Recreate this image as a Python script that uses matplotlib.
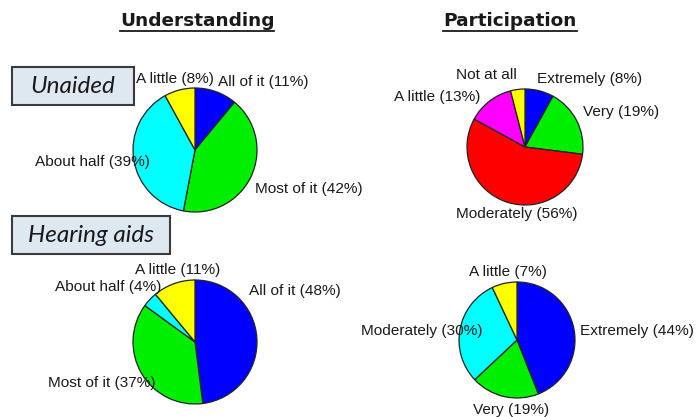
import matplotlib.pyplot as plt
from matplotlib.patches import Rectangle

# data (percent)
und_labels = ['All of it', 'Most of it', 'About half', 'A little']
und_unaided = [11, 42, 39, 8]
und_aided = [48, 37, 4, 11]
und_colors = ['#0000ff', '#00ee00', '#00ffff', '#ffff00']

part_unaided_labels = ['Extremely', 'Very', 'Moderately', 'A little', 'Not at all']
part_unaided = [8, 19, 56, 13, 4]
part_unaided_colors = ['#0000ff', '#00ee00', '#ff0000', '#ff00ff', '#ffff00']

part_aided_labels = ['Extremely', 'Very', 'Moderately', 'A little']
part_aided = [44, 19, 30, 7]
part_aided_colors = ['#0000ff', '#00ee00', '#00ffff', '#ffff00']

W, H = 698, 417


def Y(py):
    return H - py


def label(name, v):
    if name == 'Not at all':
        return name
    return f'{name} ({v}%)'


fig = plt.figure(figsize=(W / 100, H / 100), dpi=100)
ax = fig.add_axes([0, 0, 1, 1])


def draw_pie(values, colors, cx, cy, r):
    ax.pie(values, colors=colors, startangle=90, counterclock=False,
           center=(cx, Y(cy)), radius=r,
           wedgeprops=dict(edgecolor='#222222', linewidth=0.9))


draw_pie(und_unaided, und_colors, 195, 150, 62)
draw_pie(part_unaided, part_unaided_colors, 525, 147, 58)
draw_pie(und_aided, und_colors, 195, 342, 62)
draw_pie(part_aided, part_aided_colors, 517, 340, 58)

ax.set_xlim(0, W)
ax.set_ylim(0, H)
ax.set_aspect('equal')
ax.axis('off')

txt = dict(fontsize=11.1, family='Liberation Sans', color='#1a1a1a',
           ha='left', va='center')

# label positions (left edge, vertical centre) in pixels
und_unaided_pos = [(218, 82), (255, 189), (35, 162), (136, 79)]
part_unaided_pos = [(537, 79), (583, 112), (456, 214), (394, 97), (456, 75)]
und_aided_pos = [(249, 291), (48, 383), (55, 287), (135, 270)]
part_aided_pos = [(580, 331), (473, 410), (361, 331), (469, 272)]

for names, vals, pos in [(und_labels, und_unaided, und_unaided_pos),
                         (part_unaided_labels, part_unaided, part_unaided_pos),
                         (und_labels, und_aided, und_aided_pos),
                         (part_aided_labels, part_aided, part_aided_pos)]:
    for n, v, (x, y) in zip(names, vals, pos):
        ax.text(x, Y(y), label(n, v), **txt)

# column titles, underlined
fig.canvas.draw()
for title, x in [('Understanding', 197), ('Participation', 510)]:
    t = ax.text(x, Y(21), title, fontsize=13.3, fontweight='bold',
                family='DejaVu Sans', color='#1a1a1a', ha='center', va='center')
    bb = t.get_window_extent(renderer=fig.canvas.get_renderer())
    ax.plot([bb.x0, bb.x1], [Y(31), Y(31)], color='#1a1a1a', lw=1.3)

# condition boxes
for name, x0, y0, x1, y1 in [('Unaided', 12, 67, 134, 105),
                             ('Hearing aids', 12, 216, 170, 254)]:
    ax.add_patch(Rectangle((x0, Y(y1)), x1 - x0, y1 - y0, facecolor='#dde8f1',
                           edgecolor='#3a3a3a', lw=1.5))
    ax.text((x0 + x1) / 2, Y((y0 + y1) / 2), name, fontsize=17.5, style='italic',
            family='Lato', color='#1a1a1a', ha='center', va='center')

ax.set_xlim(0, W)
ax.set_ylim(0, H)

fig.savefig('out.png', dpi=100)
